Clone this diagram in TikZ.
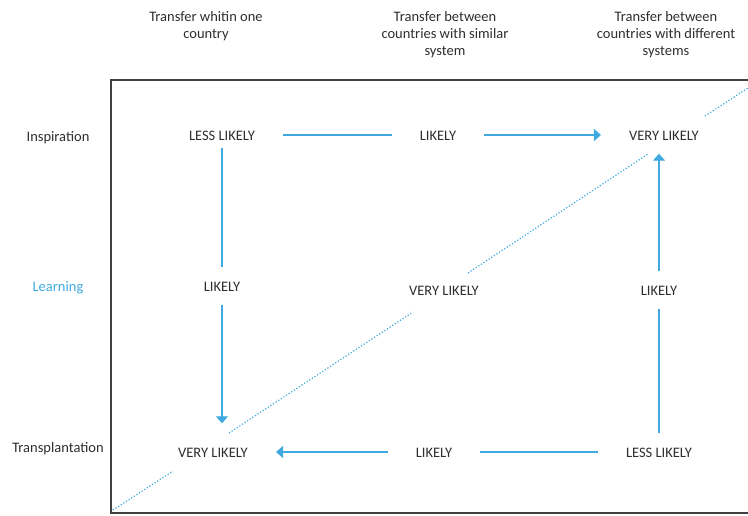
\documentclass[tikz,border=0pt]{standalone}
\usepackage{fontspec}
\setmainfont{Carlito}
\usetikzlibrary{arrows.meta}
\definecolor{lineblue}{HTML}{3FA9E0}
\definecolor{textgray}{HTML}{2E2E2E}
\definecolor{framegray}{HTML}{404040}
\begin{document}
\begin{tikzpicture}[x=1pt,y=-1pt,
    every node/.style={font=\fontsize{14.5}{17}\selectfont, text=textgray},
    head/.style={anchor=north, align=center, inner sep=0pt},
    rowlabel/.style={inner sep=0pt, text height=12pt, text depth=1pt},
    cell/.style={inner xsep=28pt, inner ysep=12pt, text height=12pt, text depth=1pt},
    link/.style={draw=lineblue, line width=1.3pt},
    tip/.style={-{Triangle[width=12pt,length=7pt]}},
    diag/.style={draw=lineblue, line width=1.2pt, dash pattern=on 1.2pt off 1.9pt}]
      \useasboundingbox (0,0) rectangle (748,516);
      %\draw [help lines] (0,0) grid[step=50] (748,516);
      \draw[framegray, line width=1.3pt] (748,80) -- (111,80) -- (111,513) -- (748,513);

      \node[head] (within) at (206,11) {Transfer whitin one\\country};
      \node[head] (similar) at (445,11) {Transfer between\\countries with similar\\system};
      \node[head] (different) at (666,11) {Transfer between\\countries with different\\systems};

      \node[rowlabel] (inspiration) at (58,136) {Inspiration};
      \node[rowlabel, text=lineblue] (learning) at (58,286) {Learning};
      \node[rowlabel] (transplantation) at (58,447) {Transplantation};

      \node[cell] (insWithin) at (222,135) {LESS LIKELY};
      \node[cell] (insSimilar) at (438,135) {LIKELY};
      \node[cell] (insDifferent) at (664,135) {VERY LIKELY};
      \node[cell] (learnWithin) at (222,286) {LIKELY};
      \node[cell] (learnSimilar) at (444,290) {VERY LIKELY};
      \node[cell] (learnDifferent) at (659,290) {LIKELY};
      \node[cell] (transWithin) at (213,452) {VERY LIKELY};
      \node[cell] (transSimilar) at (434,452) {LIKELY};
      \node[cell] (transDifferent) at (659,452) {LESS LIKELY};

      % diagonal, broken round the three VERY LIKELY cells
      \coordinate (d0) at (113,510);
      \coordinate (d1) at (173,471);
      \coordinate (d2) at (229,433);
      \coordinate (d3) at (413,312);
      \coordinate (d4) at (468,273);
      \coordinate (d5) at (648,154);
      \coordinate (d6) at (705,116);
      \coordinate (d7) at (748,88);
      \draw[diag] (d0) -- (d1) (d2) -- (d3) (d4) -- (d5) (d6) -- (d7);

      \draw[link] (insWithin) -- (insSimilar);
      \draw[link,tip] (insSimilar) -- (insDifferent);
      \draw[link,shorten <=-6pt] (insWithin) -- (learnWithin);
      \draw[link,tip,shorten >=10pt] (learnWithin) -- (learnWithin |- transWithin.north);
      \draw[link] (transDifferent) -- (learnDifferent);
      \draw[link,tip] (learnDifferent) -- (learnDifferent |- insDifferent.south);
      \draw[link] (transDifferent) -- (transSimilar);
      \draw[link,tip] (transSimilar) -- (transWithin);
    \end{tikzpicture}
\end{document}
